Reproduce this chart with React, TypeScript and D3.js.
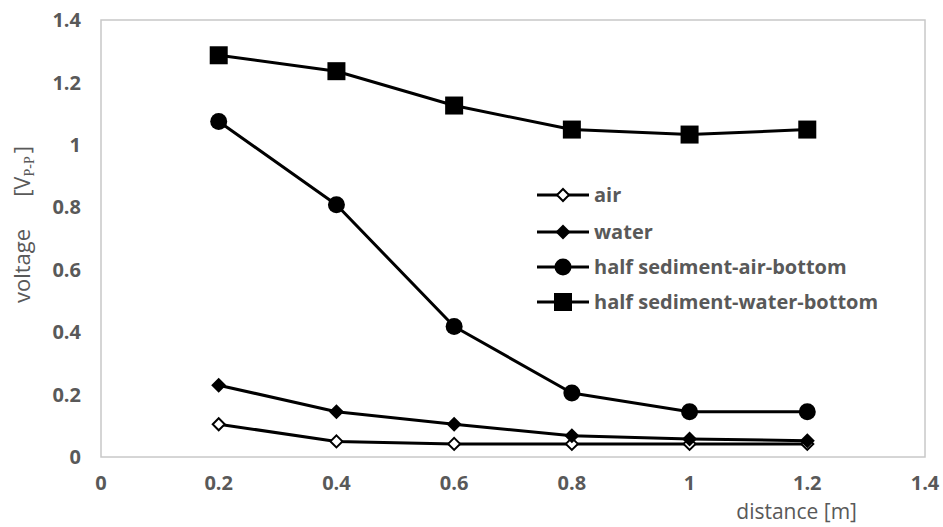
import React from "react";
import * as d3 from "d3";

const distances = [0.2, 0.4, 0.6, 0.8, 1.0, 1.2];
const air = [0.105, 0.05, 0.042, 0.042, 0.042, 0.042];
const water = [0.23, 0.145, 0.105, 0.068, 0.058, 0.052];
const sedAir = [1.075, 0.808, 0.418, 0.205, 0.145, 0.145];
const sedWater = [1.287, 1.236, 1.126, 1.049, 1.033, 1.049];
const xTicks = [0, 0.2, 0.4, 0.6, 0.8, 1, 1.2, 1.4];
const yTicks = [0, 0.2, 0.4, 0.6, 0.8, 1, 1.2, 1.4];
const seriesNames = ["air", "water", "half sediment-air-bottom", "half sediment-water-bottom"];
const markerTypes = ["diamondOpen", "diamond", "circle", "square"];

const W = 943, H = 527;
const x = d3.scaleLinear().domain([0, 1.4]).range([101, 925]);
const y = d3.scaleLinear().domain([0, 1.4]).range([457, 20]);

function Marker({ type, cx, cy }: { type: string; cx: number; cy: number }) {
  if (type === "square") return <rect x={cx - 9} y={cy - 9} width={18} height={18} fill="#000" />;
  if (type === "circle") return <circle cx={cx} cy={cy} r={8.5} fill="#000" />;
  const s = 7.5;
  const pts = `${cx},${cy - s} ${cx + s},${cy} ${cx},${cy + s} ${cx - s},${cy}`;
  if (type === "diamond") return <polygon points={pts} fill="#000" />;
  const s2 = 6;
  const pts2 = `${cx},${cy - s2} ${cx + s2},${cy} ${cx},${cy + s2} ${cx - s2},${cy}`;
  return <polygon points={pts2} fill="#fff" stroke="#000" strokeWidth={2} />;
}

export default function App() {
  const data = [air, water, sedAir, sedWater];
  const line = d3.line<number>().x((_, i) => x(distances[i])).y((d) => y(d));
  const font = "'Open Sans', sans-serif";
  const legendX = 537, legendY = [195, 232, 267, 302];
  return (
    <svg width={W} height={H} style={{ position: "absolute", left: 0, top: 0, background: "#fff" }}>
      <rect x={x(0)} y={y(1.4)} width={x(1.4) - x(0)} height={y(0) - y(1.4)} fill="none" stroke="#c8c8c8" strokeWidth={1.5} />
      {yTicks.map((t) => (
        <text key={"y" + t} x={81} y={y(t)} dy="0.36em" textAnchor="end" fontFamily={font} fontWeight="bold" fontSize={20} fill="#595959">
          {String(t)}
        </text>
      ))}
      {xTicks.map((t) => (
        <text key={"x" + t} x={x(t)} y={483} dy="0.36em" textAnchor="middle" fontFamily={font} fontWeight="bold" fontSize={20} fill="#595959">
          {String(t)}
        </text>
      ))}
      <text x={857} y={519} textAnchor="end" fontFamily={font} fontSize={21} fill="#595959">
        distance [m]
      </text>
      <g transform="translate(30,303) rotate(-90)">
        <text x={0} y={0} textAnchor="start" fontFamily={font} fontSize={22} fill="#595959">
          <tspan>voltage</tspan>
          <tspan dx={32}>[V</tspan>
          <tspan fontSize={14} dy={4} fontFamily="'Liberation Serif', serif">P-P</tspan>
          <tspan dy={-4} dx={3}>]</tspan>
        </text>
      </g>
      {data.map((vals, si) => (
        <g key={"s" + si}>
          <path d={line(vals) || ""} fill="none" stroke="#000" strokeWidth={3} strokeLinejoin="round" />
          {vals.map((v, i) => (
            <Marker key={i} type={markerTypes[si]} cx={x(distances[i])} cy={y(v)} />
          ))}
        </g>
      ))}
      {seriesNames.map((n, i) => (
        <g key={"l" + i}>
          <line x1={legendX} x2={legendX + 52} y1={legendY[i]} y2={legendY[i]} stroke="#000" strokeWidth={3} />
          <Marker type={markerTypes[i]} cx={legendX + 26} cy={legendY[i]} />
          <text x={legendX + 57} y={legendY[i]} dy="0.36em" fontFamily={font} fontWeight="bold" fontSize={20} fill="#595959">
            {n}
          </text>
        </g>
      ))}
    </svg>
  );
}
